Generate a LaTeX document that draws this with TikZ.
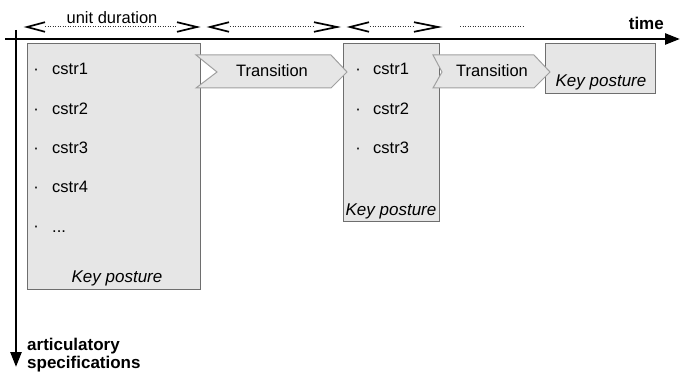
\documentclass[tikz,border=0pt]{standalone}
\usepackage{fontspec}
\setmainfont{Liberation Sans}
\usetikzlibrary{arrows.meta}
\definecolor{boxfill}{HTML}{E6E6E6}
\definecolor{boxline}{HTML}{6E6E6E}
\definecolor{trline}{HTML}{A0A0A0}
\begin{document}
\begin{tikzpicture}[x=1pt,y=-1pt,
  every node/.style={inner sep=0pt, font=\fontsize{16.5}{19}\selectfont},
  posture/.style={draw=boxline, fill=boxfill, line width=1pt, rectangle},
  trans/.style={draw=trline, fill=boxfill, line width=1pt, line join=miter},
  itemtext/.style={anchor=base west},
  bul/.style={anchor=base},
  kplabel/.style={anchor=base, font=\fontsize{17}{19}\selectfont\itshape},
  axislabel/.style={font=\fontsize{17}{19}\selectfont\bfseries},
  axis/.style={line width=2.6pt, -{Triangle[length=15pt,width=11pt]}},
  dimline/.style={line width=0.5pt, dotted, black!80},
  chev/.style={line width=1.7pt, line join=miter}]
\useasboundingbox (0,0) rectangle (680,374);

% key posture boxes
\node[posture, minimum width=173pt, minimum height=245pt] (kp1) at (113.5,166.5) {};
\node[posture, minimum width=96pt, minimum height=178pt] (kp2) at (391,133) {};
\node[posture, minimum width=110pt, minimum height=50pt] (kp3) at (600,69) {};

% transitions
\draw[trans] (196,55) -- (331,55) -- (347,72) -- (331,88) -- (196,88) -- (217,72) -- cycle;
\node[anchor=base] (t1) at (272,77) {Transition};
\draw[trans] (433,55) -- (534,55) -- (550,72) -- (534,88) -- (433,88) -- (442,72) -- cycle;
\node[anchor=base] (t2) at (492,77) {Transition};

% box 1 items
\node[bul] (b11) at (36,75) {·};  \node[itemtext] (c11) at (52,75) {cstr1};
\node[bul] (b12) at (36,115) {·}; \node[itemtext] (c12) at (52,115) {cstr2};
\node[bul] (b13) at (36,154) {·}; \node[itemtext] (c13) at (52,154) {cstr3};
\node[bul] (b14) at (36,193) {·}; \node[itemtext] (c14) at (52,193) {cstr4};
\node[bul] (b15) at (36,232) {·}; \node[itemtext] (c15) at (52,233) {...};
\node[kplabel] (kpl1) at (117,282) {Key posture};

% box 2 items
\node[bul] (b21) at (358,75) {·};  \node[itemtext] (c21) at (373,75) {cstr1};
\node[bul] (b22) at (358,115) {·}; \node[itemtext] (c22) at (373,115) {cstr2};
\node[bul] (b23) at (358,154) {·}; \node[itemtext] (c23) at (373,154) {cstr3};
\node[kplabel] (kpl2) at (391,216) {Key posture};

% box 3
\node[kplabel] (kpl3) at (601,87) {Key posture};

% axes
\coordinate (hO) at (5,39);
\coordinate (hE) at (680,39);
\coordinate (vO) at (16,30);
\coordinate (vE) at (16,367);
\draw[axis] (hO) -- (hE);
\draw[axis] (vO) -- (vE);
\node[axislabel, anchor=base east] (time) at (664,30) {time};
\node[axislabel, anchor=base west] (art1) at (27,350) {articulatory};
\node[axislabel, anchor=base west] (art2) at (27,368) {specifications};

% duration marks
\coordinate (d1a) at (27,27);  \coordinate (d1b) at (197,27);
\coordinate (d2a) at (210,27); \coordinate (d2b) at (337,27);
\coordinate (d3a) at (350,27); \coordinate (d3b) at (438,27);
\coordinate (d4a) at (460,26.5); \coordinate (d4b) at (523,26.5);

\draw[dimline] (45,26.5) -- (177,26.5);
\draw[chev] (d1a) ++(18,-4.8) -- (d1a) -- ++(18,4.8);
\draw[chev] (d1b) ++(-20,-4.8) -- (d1b) -- ++(-20,4.8);
\node[anchor=base] (ud) at (112,24) {unit duration};

\draw[dimline] (230,26.5) -- (313,26.5);
\draw[chev] (d2a) ++(19,-4.8) -- (d2a) -- ++(19,4.8);
\draw[chev] (d2b) ++(-23,-4.8) -- (d2b) -- ++(-23,4.8);

\draw[dimline] (370,26.5) -- (413,26.5);
\draw[chev] (d3a) ++(19,-4.8) -- (d3a) -- ++(19,4.8);
\draw[chev] (d3b) ++(-24,-4.8) -- (d3b) -- ++(-24,4.8);

\draw[dimline] (d4a) -- (d4b);
\end{tikzpicture}
\end{document}
